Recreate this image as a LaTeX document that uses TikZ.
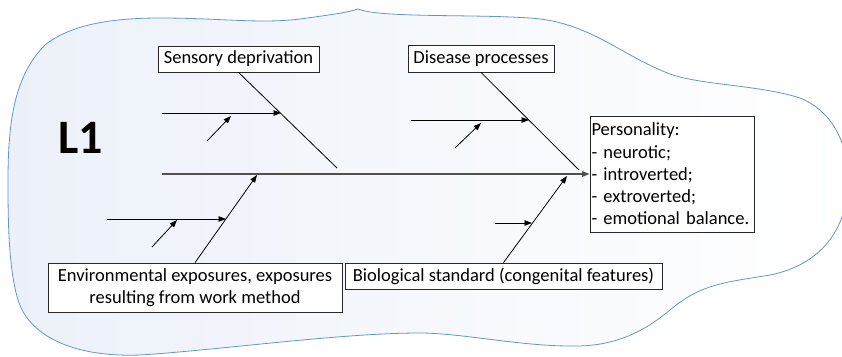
\documentclass[tikz,border=0pt]{standalone}
\usepackage{fontspec}
\setmainfont{Carlito}
\usetikzlibrary{arrows.meta}
\definecolor{cloudline}{RGB}{100,150,205}
\definecolor{cloudfill}{RGB}{236,241,249}
\definecolor{spinegray}{RGB}{80,80,80}
\definecolor{boxline}{RGB}{40,40,40}
\begin{document}
\begin{tikzpicture}[x=1pt,y=-1pt,
  labelbox/.style={draw=boxline, line width=0.8pt, fill=white, inner sep=0pt,
    font=\fontsize{18.5}{22.2}\selectfont},
  branch/.style={line width=0.8pt, black},
  tipped/.style={branch, -{Triangle[length=7.5pt,width=5.5pt]}},
  spine/.style={line width=1.4pt, spinegray, -{Triangle[length=7.5pt,width=5.5pt]}}]
\useasboundingbox (0,0) rectangle (842,356);

% cloud background
\path[draw=cloudline, line width=0.8pt, shading angle=-60, left color=cloudfill, right color=white]
  (358,9) .. controls (380,18) and (470,14) .. (530,18)
  .. controls (590,22) and (620,55) .. (670,74)
  .. controls (700,85) and (760,85) .. (800,98)
  .. controls (830,110) and (848,140) .. (848,180)
  .. controls (848,230) and (820,265) .. (770,275)
  .. controls (720,283) and (700,285) .. (670,310)
  .. controls (640,335) and (610,347) .. (570,346)
  .. controls (520,346) and (460,333) .. (420,333)
  .. controls (340,333) and (220,350) .. (140,355)
  .. controls (90,357) and (45,345) .. (25,315)
  .. controls (8,290) and (8,220) .. (8,180)
  .. controls (8,120) and (15,75) .. (45,45)
  .. controls (70,25) and (110,18) .. (160,18)
  .. controls (220,18) and (260,24) .. (300,19)
  .. controls (330,15) and (350,12) .. (358,9) -- cycle;

% level label
\node[font=\fontsize{48}{48}\selectfont\bfseries] (lvl) at (81,138) {L1};

% cause and effect boxes
\node[labelbox, minimum width=161pt, minimum height=26pt] (sd) at (238.5,59) {Sensory deprivation};
\node[labelbox, minimum width=146pt, minimum height=27pt] (dp) at (481,58.5) {Disease processes};
\node[labelbox, minimum width=294pt, minimum height=49pt, align=center] (env) at (195,287.5)
  {Environmental exposures, exposures\\resulting from work method};
\node[labelbox, minimum width=317pt, minimum height=26pt] (bio) at (503.5,276)
  {Biological standard (congenital features)};
\node[labelbox, text width=161pt, inner xsep=1.5pt, minimum height=116pt, align=left] (pers) at (672,174)
  {Personality:\\- neurotic;\\- introverted;\\- extroverted;\\- emotional balance.};

% main spine
\coordinate (spineStart) at (162,174);
\draw[spine] (spineStart) -- (pers.west);

% main branches
\coordinate (sdEnd) at (337,168);
\coordinate (dpEnd) at (579,170);
\coordinate (envEnd) at (257,175);
\coordinate (bioEnd) at (567,176);
\draw[branch] (sd.south) -- (sdEnd);
\draw[branch] (dp.south) -- (dpEnd);
\draw[tipped] (env.north) -- (envEnd);
\draw[tipped] (bio.north) -- (bioEnd);

% sub-causes
\coordinate (a1s) at (162,113); \coordinate (a1e) at (281,113);
\coordinate (a2s) at (207,141); \coordinate (a2e) at (231,116);
\coordinate (b1s) at (411,120); \coordinate (b1e) at (529,120);
\coordinate (b2s) at (455,148); \coordinate (b2e) at (481,123);
\coordinate (c1s) at (107,219); \coordinate (c1e) at (226,219);
\coordinate (c2s) at (152,247); \coordinate (c2e) at (177,220);
\coordinate (d1s) at (495,223); \coordinate (d1e) at (532,223);
\draw[tipped] (a1s) -- (a1e);
\draw[tipped] (a2s) -- (a2e);
\draw[tipped] (b1s) -- (b1e);
\draw[tipped] (b2s) -- (b2e);
\draw[tipped] (c1s) -- (c1e);
\draw[tipped] (c2s) -- (c2e);
\draw[tipped] (d1s) -- (d1e);
\end{tikzpicture}
\end{document}
